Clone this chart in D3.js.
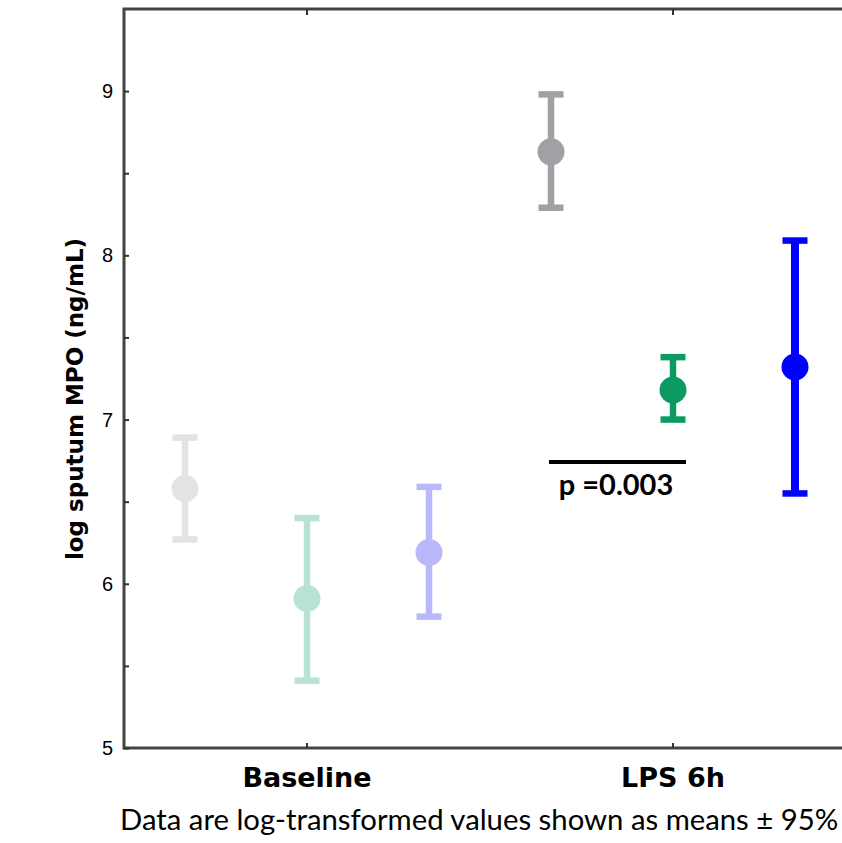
<!DOCTYPE html>
<html>
<head>
<meta charset="utf-8">
<script src="https://cdn.jsdelivr.net/npm/d3@7"></script>
<style>
  body { margin: 0; background: #fff; }
  svg { display: block; }
</style>
</head>
<body>
<svg width="842" height="843"></svg>
<script>
var svg = d3.select("svg");

// data
var groups = ["Baseline", "LPS 6h"];
var series = ["s1", "s2", "s3"];
var means = [[6.58, 5.91, 6.19], [8.63, 7.18, 7.32]];
var lower = [[6.27, 5.41, 5.80], [8.29, 7.00, 6.55]];
var upper = [[6.89, 6.40, 6.59], [8.98, 7.38, 8.09]];
var yTicks = [5, 6, 7, 8, 9];
var yMinor = [5.5, 6.5, 7.5, 8.5];

// colours per group / series
var colors = [["#e3e3e3", "#b8e2d2", "#b8b8fb"], ["#a0a0a5", "#0c9a62", "#0000ff"]];
var widths = [[6.5, 6.5, 6.5], [6.5, 6.5, 8]];

// note: "top" is taken by window.top, so plotTop
var plotLeft = 124, plotTop = 9, plotBottom = 748;

var x = d3.scaleBand().domain(groups).range([plotLeft, plotLeft + 732]).padding(0);
var off = d3.scalePoint().domain(series).range([-122, 122]);
var y = d3.scaleLinear().domain([5, 9.5]).range([plotBottom, plotTop]);

function tickStyle(g) {
    g.select(".domain").remove();
    g.selectAll("line").attr("stroke", "#333").attr("stroke-width", 2);
}

// frame (right side runs off the picture)
var frame = svg.append("g").attr("stroke", "#444").attr("stroke-width", 3).attr("fill", "none");
frame.append("path").attr("d", "M" + (plotLeft + 740) + "," + plotTop + "H" + plotLeft + "V" + plotBottom + "H" + (plotLeft + 740));

// y axis, ticks inward
svg.append("g").attr("transform", "translate(" + plotLeft + ",0)")
    .call(d3.axisRight(y).tickValues(yTicks).tickSize(5).tickFormat(""))
    .call(tickStyle);
svg.append("g").attr("transform", "translate(" + plotLeft + ",0)")
    .call(d3.axisRight(y).tickValues(yMinor).tickSize(5).tickFormat(""))
    .call(tickStyle);

svg.append("g").selectAll("text").data(yTicks).join("text")
    .attr("x", 113).attr("y", function(d) { return y(d) + 7; })
    .attr("text-anchor", "end")
    .style("font-family", "'Liberation Sans', Arial, sans-serif")
    .style("font-size", "20px")
    .text(function(d) { return d; });

// x ticks, bottom and top, inward
svg.append("g").attr("transform", "translate(0," + plotBottom + ")")
    .call(d3.axisTop(x).tickSize(5).tickFormat(""))
    .call(tickStyle);
svg.append("g").attr("transform", "translate(0," + plotTop + ")")
    .call(d3.axisBottom(x).tickSize(6).tickFormat(""))
    .call(tickStyle);

svg.append("g").selectAll("text").data(groups).join("text")
    .attr("x", function(d) { return x(d) + x.bandwidth() / 2; })
    .attr("y", 787)
    .attr("text-anchor", "middle")
    .style("font-family", "'DejaVu Sans', Verdana, sans-serif")
    .style("font-weight", "bold")
    .style("font-size", "27px")
    .text(function(d) { return d; });

// y label
svg.append("text")
    .attr("transform", "translate(83,399) rotate(-90)")
    .attr("text-anchor", "middle")
    .style("font-family", "'DejaVu Sans', Verdana, sans-serif")
    .style("font-weight", "bold")
    .style("font-size", "23px")
    .text("log sputum MPO (ng/mL)");

// error bars + means
var pts = [];
groups.forEach(function(g, gi) {
    series.forEach(function(s, si) {
        pts.push({ g: g, s: s, m: means[gi][si], lo: lower[gi][si], hi: upper[gi][si],
                   c: colors[gi][si], w: widths[gi][si] });
    });
});
var cx = function(d) { return x(d.g) + x.bandwidth() / 2 + off(d.s); };

var bars = svg.append("g").selectAll("g").data(pts).join("g");
bars.append("line")
    .attr("x1", cx).attr("x2", cx)
    .attr("y1", function(d) { return y(d.hi); })
    .attr("y2", function(d) { return y(d.lo); })
    .attr("stroke", function(d) { return d.c; })
    .attr("stroke-width", function(d) { return d.w; });
bars.selectAll(".cap").data(function(d) { return [[d, d.hi], [d, d.lo]]; }).join("line")
    .attr("class", "cap")
    .attr("x1", function(p) { return cx(p[0]) - 12.5; })
    .attr("x2", function(p) { return cx(p[0]) + 12.5; })
    .attr("y1", function(p) { return y(p[1]); })
    .attr("y2", function(p) { return y(p[1]); })
    .attr("stroke", function(p) { return p[0].c; })
    .attr("stroke-width", 6.5);
bars.append("circle")
    .attr("cx", cx)
    .attr("cy", function(d) { return y(d.m); })
    .attr("r", 13.5)
    .attr("fill", function(d) { return d.c; });

// significance line
svg.append("line")
    .attr("x1", 549).attr("x2", 686).attr("y1", 462).attr("y2", 462)
    .attr("stroke", "#000").attr("stroke-width", 4);
svg.append("text")
    .attr("x", 616).attr("y", 495)
    .attr("text-anchor", "middle")
    .style("font-family", "Lato, 'Open Sans', sans-serif")
    .style("font-weight", "bold")
    .style("font-size", "29px")
    .text("p =0.003");

// caption (only the part visible in the figure)
svg.append("text")
    .attr("x", 120).attr("y", 830)
    .style("font-family", "Lato, 'Open Sans', sans-serif")
    .style("font-size", "29.3px")
    .text("Data are log-transformed values shown as means \u00b1 95%");
</script>
</body>
</html>
